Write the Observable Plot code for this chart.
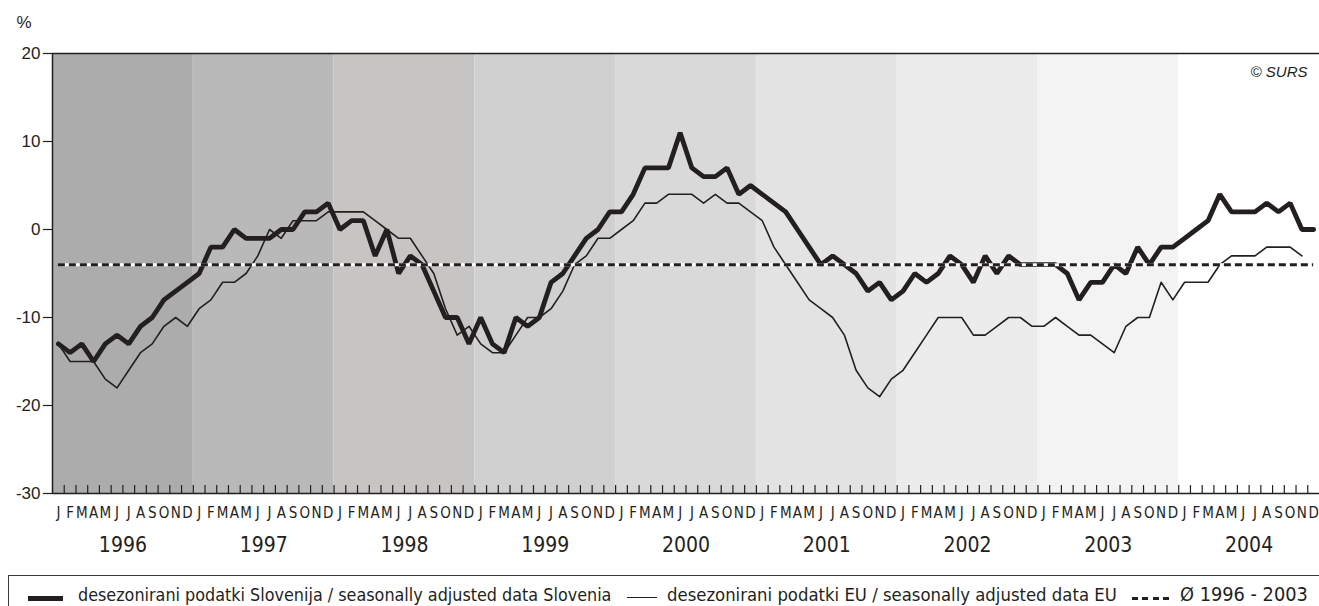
<!DOCTYPE html>
<html>
<head>
<meta charset="utf-8">
<script src="https://cdn.jsdelivr.net/npm/d3@7"></script>
<script src="https://cdn.jsdelivr.net/npm/@observablehq/plot@0.6"></script>
<style>
  body { margin: 0; background: #fff; }
  #wrap { position: relative; width: 1319px; height: 606px; overflow: hidden; }
  #legend-box {
    position: absolute; left: 8px; top: 575px; width: 1400px; height: 60px;
    border: 1.5px solid #3a3a3a; box-sizing: border-box;
  }
  .lg { position: absolute; color: #231f20; white-space: nowrap; line-height: 1;
    font-family: "Liberation Sans Narrow", "DejaVu Sans Condensed", "Liberation Sans", sans-serif; font-size: 19px; }
  .sw { position: absolute; height: 0; }
</style>
</head>
<body>
<div id="wrap">
  <div id="chart"></div>
  <div id="legend-box"></div>
  <div class="sw" style="left:28px;width:35px;top:596px;border-top:5px solid #231f20"></div>
  <div class="lg" data-w="534" style="left:78px;top:586px">desezonirani podatki Slovenija / seasonally adjusted data Slovenia</div>
  <div class="sw" style="left:627px;width:30px;top:597px;border-top:1.5px solid #231f20"></div>
  <div class="lg" data-w="450" style="left:667px;top:586px">desezonirani podatki EU / seasonally adjusted data EU</div>
  <div class="sw" style="left:1132px;width:38px;top:597px;height:2.5px;background:repeating-linear-gradient(90deg,#231f20 0 6px,transparent 6px 10.5px)"></div>
  <div class="lg" data-w="128" style="left:1180px;top:586px">Ø 1996 - 2003</div>
</div>
<script>
// years and month initials for the x axis
const years = [1996, 1997, 1998, 1999, 2000, 2001, 2002, 2003, 2004];
const monthLabels = ["J", "F", "M", "A", "M", "J", "J", "A", "S", "O", "N", "D"];

// seasonally adjusted data, Slovenia (monthly, Jan 1996 - Dec 2004)
const slovenia = [
  -13, -14, -13, -15, -13, -12, -13, -11, -10, -8, -7, -6,
  -5, -2, -2, 0, -1, -1, -1, 0, 0, 2, 2, 3,
  0, 1, 1, -3, 0, -5, -3, -4, -7, -10, -10, -13,
  -10, -13, -14, -10, -11, -10, -6, -5, -3, -1, 0, 2,
  2, 4, 7, 7, 7, 11, 7, 6, 6, 7, 4, 5,
  4, 3, 2, 0, -2, -4, -3, -4, -5, -7, -6, -8,
  -7, -5, -6, -5, -3, -4, -6, -3, -5, -3, -4, -4,
  -4, -4, -5, -8, -6, -6, -4, -5, -2, -4, -2, -2,
  -1, 0, 1, 4, 2, 2, 2, 3, 2, 3, 0, 0
];

// seasonally adjusted data, EU (ends Nov 2004)
const eu = [
  -13, -15, -15, -15, -17, -18, -16, -14, -13, -11, -10, -11,
  -9, -8, -6, -6, -5, -3, 0, -1, 1, 1, 1, 2,
  2, 2, 2, 1, 0, -1, -1, -3, -5, -9, -12, -11,
  -13, -14, -14, -12, -10, -10, -9, -7, -4, -3, -1, -1,
  0, 1, 3, 3, 4, 4, 4, 3, 4, 3, 3, 2,
  1, -2, -4, -6, -8, -9, -10, -12, -16, -18, -19, -17,
  -16, -14, -12, -10, -10, -10, -12, -12, -11, -10, -10, -11,
  -11, -10, -11, -12, -12, -13, -14, -11, -10, -10, -6, -8,
  -6, -6, -6, -4, -3, -3, -3, -2, -2, -2, -3
];

// average 1996 - 2003
const average = -4;

const yTicks = [-30, -20, -10, 0, 10, 20];
const bandColors = ["#acacac", "#b9b9b9", "#c6c5c3", "#d0d0d0", "#d9d9d9", "#e3e3e3", "#ececec", "#f3f3f3", "#ffffff"];
const ink = "#231f20";
const narrow = '"Liberation Sans Narrow", "DejaVu Sans Condensed", "Liberation Sans", sans-serif';

const nMonths = years.length * 12;
const sloData = slovenia.map((v, i) => ({ m: i + 0.5, v }));
const euData = eu.map((v, i) => ({ m: i + 0.5, v }));
const bands = years.map((y, k) => ({ year: y, x1: k * 12, x2: k * 12 + 12, fill: bandColors[k] }));
const months = d3.range(nMonths).map((i) => ({ m: i + 0.5, label: monthLabels[i % 12] }));

const chart = Plot.plot({
  width: 1319,
  height: 570,
  marginLeft: 52,
  marginRight: 0,
  marginTop: 53,
  marginBottom: 77,
  style: { fontFamily: '"Liberation Sans", Arial, sans-serif', fontSize: "17px", color: ink, background: "transparent" },
  x: { domain: [0, nMonths], axis: null },
  y: { domain: [-30, 20], axis: null },
  color: { type: "identity" },
  marks: [
    Plot.rect(bands, { x1: "x1", x2: "x2", y1: -30, y2: 20, fill: "fill" }),
    Plot.axisY(yTicks, { tickSize: 9, tickPadding: 3, tickFormat: (d) => String(d), fontSize: 17, label: null, stroke: ink, strokeWidth: 1.2 }),
    Plot.ruleX(d3.range(1, nMonths), { y1: -30, y2: -29.1, stroke: ink, strokeWidth: 1.2 }),
    Plot.line(euData, { x: "m", y: "v", stroke: ink, strokeWidth: 1.6 }),
    Plot.line(sloData, { x: "m", y: "v", stroke: ink, strokeWidth: 4.8, strokeLinejoin: "miter" }),
    Plot.ruleY([average], { x1: 0.5, x2: nMonths - 0.5, stroke: "#fff", strokeWidth: 3 }),
    Plot.ruleY([average], { x1: 0.5, x2: nMonths - 0.5, stroke: ink, strokeWidth: 3, strokeDasharray: "7 4" }),
    Plot.ruleX([0], { stroke: ink, strokeWidth: 1.5 }),
    Plot.ruleY([20], { stroke: ink, strokeWidth: 1.5 }),
    Plot.ruleY([-30], { stroke: ink, strokeWidth: 1.5 }),
    Plot.text(months, { x: "m", y: -30, text: "label", dy: 20, fontSize: 15, fontFamily: narrow, fill: ink }),
    Plot.text(bands, { x: (d) => (d.x1 + d.x2) / 2, y: -30, text: (d) => String(d.year), dy: 52, fontSize: 21, fontFamily: narrow, fill: ink }),
    Plot.text(["© SURS"], { frameAnchor: "top-right", dx: -12, dy: 13, fontSize: 15, fontStyle: "italic", fill: ink }),
    Plot.text(["%"], { frameAnchor: "top-left", dx: -36, dy: -38, fontSize: 17, fill: ink })
  ]
});

document.getElementById("chart").appendChild(chart);

// fit legend texts to the widths they take in the original
document.querySelectorAll(".lg").forEach((el) => {
  const target = +el.dataset.w;
  const w = el.getBoundingClientRect().width;
  const fs = 19 * target / w;
  el.style.fontSize = fs + "px";
  el.style.top = (595 - fs / 2) + "px";
});
</script>
</body>
</html>
